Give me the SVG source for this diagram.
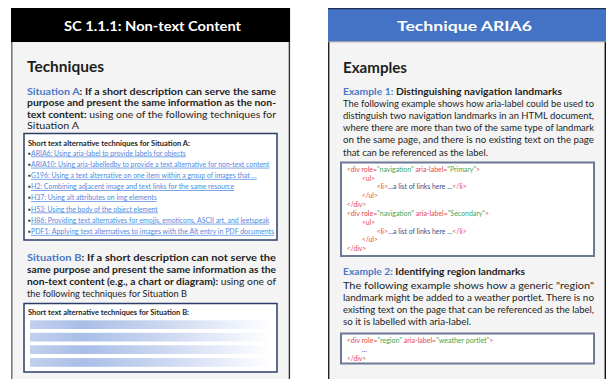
<svg xmlns="http://www.w3.org/2000/svg" width="607" height="379" viewBox="0 0 607 379">
<defs>
<style>
text{font-family:Lato,"Open Sans","Liberation Sans",sans-serif;fill:#1e1e1e}
.hdr{font-size:13.6px;font-weight:bold;fill:#fff}
.h2{font-size:14.8px;font-weight:bold}
.body{font-size:9.8px}
.b{font-weight:bold}
.blue{fill:#4a78c8}
.boxt{font-size:7.3px;font-weight:bold}
.link{font-size:7.4px;fill:#4f8ae0;text-decoration:underline}
.bul{font-size:7.4px;fill:#333}
.code{font-size:6.8px}
.r{fill:#e8474a}
.g{fill:#3fa652}
.cb{fill:#35528f}
.boxA{fill:#fff;stroke:#2c3d6a;stroke-width:1.5}
.cbox{fill:#fff;stroke:#6d7995;stroke-width:2}
</style>
<linearGradient id="bar" gradientUnits="userSpaceOnUse" x1="30" y1="0" x2="272" y2="0">
<stop offset="0" stop-color="#c2d0ee"/>
<stop offset="0.22" stop-color="#a9bee7"/>
<stop offset="0.55" stop-color="#cbd7f1"/>
<stop offset="1" stop-color="#ffffff"/>
</linearGradient>
</defs>
<rect width="607" height="379" fill="#fff"/>
<g id="connectors"/>

<g id="panel-sc111">
<rect x="11" y="8" width="279" height="372" fill="#f4f4f4"/>
<line x1="11.8" y1="8" x2="11.8" y2="379" stroke="#7a7a7a" stroke-width="1.6"/>
<line x1="289.4" y1="8" x2="289.4" y2="379" stroke="#333" stroke-width="1.4"/>
<rect x="11" y="8" width="279" height="34" fill="#000"/>
<text class="hdr" x="152.5" y="30.5" text-anchor="middle" textLength="177" lengthAdjust="spacingAndGlyphs">SC 1.1.1: Non-text Content</text>
<text class="h2" x="27" y="71.7" textLength="77" lengthAdjust="spacingAndGlyphs">Techniques</text>

<g id="situation-a">
<text class="body b" x="27" y="94.5" textLength="249" lengthAdjust="spacingAndGlyphs"><tspan class="blue">Situation A</tspan>: If a short description can serve the same</text>
<text class="body b" x="27" y="106" textLength="249" lengthAdjust="spacingAndGlyphs">purpose and present the same information as the non-</text>
<text class="body" x="27" y="117.5" textLength="249" lengthAdjust="spacingAndGlyphs"><tspan class="b">text content:</tspan> using one of the following techniques for</text>
<text class="body" x="27" y="129" textLength="52" lengthAdjust="spacingAndGlyphs">Situation A</text>
</g>

<g id="box-a">
<rect class="boxA" x="24" y="133.5" width="253" height="106.5"/>
<text class="boxt" x="28" y="145.5" textLength="162" lengthAdjust="spacingAndGlyphs">Short text alternative techniques for Situation A:</text>
<text class="bul" x="28" y="155.5">▪</text>
<text class="bul" x="28" y="166.7">▪</text>
<text class="bul" x="28" y="177.9">▪</text>
<text class="bul" x="28" y="189.1">▪</text>
<text class="bul" x="28" y="200.3">▪</text>
<text class="bul" x="28" y="211.5">▪</text>
<text class="bul" x="28" y="222.7">▪</text>
<text class="bul" x="28" y="233.9">▪</text>
<text class="link" x="31" y="155.5" textLength="154.7" lengthAdjust="spacingAndGlyphs">ARIA6: Using aria-label to provide labels for objects</text>
<text class="link" x="31" y="166.7" textLength="238.3" lengthAdjust="spacingAndGlyphs">ARIA10: Using aria-labelledby to provide a text alternative for non-text content</text>
<text class="link" x="31" y="177.9" textLength="225.7" lengthAdjust="spacingAndGlyphs">G196: Using a text alternative on one item within a group of images that …</text>
<text class="link" x="31" y="189.1" textLength="203.3" lengthAdjust="spacingAndGlyphs">H2: Combining adjacent image and text links for the same resource</text>
<text class="link" x="31" y="200.3" textLength="125.7" lengthAdjust="spacingAndGlyphs">H37: Using alt attributes on img elements</text>
<text class="link" x="31" y="211.5" textLength="126.7" lengthAdjust="spacingAndGlyphs">H53: Using the body of the object element</text>
<text class="link" x="31" y="222.7" textLength="238.3" lengthAdjust="spacingAndGlyphs">H86: Providing text alternatives for emojis, emoticons, ASCII art, and leetspeak</text>
<text class="link" x="31" y="233.9" textLength="243" lengthAdjust="spacingAndGlyphs">PDF1: Applying text alternatives to images with the Alt entry in PDF documents</text>
</g>

<g id="situation-b">
<text class="body b" x="27" y="260.5" textLength="249" lengthAdjust="spacingAndGlyphs"><tspan class="blue">Situation B</tspan>: If a short description can not serve the</text>
<text class="body b" x="27" y="272.5" textLength="249" lengthAdjust="spacingAndGlyphs">same purpose and present the same information as the</text>
<text class="body" x="27" y="284.5" textLength="249" lengthAdjust="spacingAndGlyphs"><tspan class="b">non-text content (e.g., a chart or diagram):</tspan> using one of</text>
<text class="body" x="27" y="296.5" textLength="160" lengthAdjust="spacingAndGlyphs">the following techniques for Situation B</text>
</g>

<g id="box-b">
<rect class="boxA" x="24" y="303.5" width="253" height="68.5"/>
<text class="boxt" x="28" y="315" textLength="161" lengthAdjust="spacingAndGlyphs">Short text alternative techniques for Situation B:</text>
<rect x="30" y="320.3" width="242" height="8.7" fill="url(#bar)"/>
<rect x="30" y="332.8" width="242" height="8.7" fill="url(#bar)"/>
<rect x="30" y="345.3" width="242" height="8.7" fill="url(#bar)"/>
<rect x="30" y="358.1" width="242" height="8.7" fill="url(#bar)"/>
</g>
</g>

<g id="panel-aria6">
<rect x="328" y="8" width="278" height="372" fill="#f4f4f4"/>
<line x1="328.7" y1="8" x2="328.7" y2="379" stroke="#222" stroke-width="1.4"/>
<line x1="605.3" y1="8" x2="605.3" y2="379" stroke="#111" stroke-width="1.4"/>
<rect x="328" y="8" width="278" height="33.5" fill="#4472c4"/>
<line x1="328" y1="8.6" x2="606" y2="8.6" stroke="#1f2f55" stroke-width="1.2"/>
<line x1="328" y1="41.8" x2="606" y2="41.8" stroke="#9a9a9a" stroke-width="1"/>
<text class="hdr" x="464.5" y="30.5" text-anchor="middle" textLength="135" lengthAdjust="spacingAndGlyphs">Technique ARIA6</text>
<text class="h2" x="343" y="72.5" textLength="64" lengthAdjust="spacingAndGlyphs">Examples</text>

<g id="example-1">
<text class="body b" x="343" y="95" textLength="219" lengthAdjust="spacingAndGlyphs"><tspan class="blue">Example 1:</tspan> Distinguishing navigation landmarks</text>
<text class="body" x="343" y="106.5" textLength="251" lengthAdjust="spacingAndGlyphs">The following example shows how aria-label could be used to</text>
<text class="body" x="343" y="118.8" textLength="251" lengthAdjust="spacingAndGlyphs">distinguish two navigation landmarks in an HTML document,</text>
<text class="body" x="343" y="131.1" textLength="251" lengthAdjust="spacingAndGlyphs">where there are more than two of the same type of landmark</text>
<text class="body" x="343" y="143.4" textLength="251" lengthAdjust="spacingAndGlyphs">on the same page, and there is no existing text on the page</text>
<text class="body" x="343" y="155.7" textLength="145" lengthAdjust="spacingAndGlyphs">that can be referenced as the label.</text>
</g>

<g id="code-1">
<rect class="cbox" x="341" y="162.5" width="253" height="93.5"/>
<text class="code r" x="346.7" y="171.6" textLength="133.3" lengthAdjust="spacingAndGlyphs">&lt;div role=<tspan class="g">"navigation"</tspan> aria-label=<tspan class="g">"Primary"</tspan>&gt;</text>
<text class="code r" x="361.7" y="180.5">&lt;ul&gt;</text>
<text class="code r" x="376.7" y="189.3" textLength="90" lengthAdjust="spacingAndGlyphs">&lt;li&gt;<tspan class="cb">…a list of links here …</tspan>&lt;/li&gt;</text>
<text class="code r" x="361.7" y="198.2">&lt;/ul&gt;</text>
<text class="code r" x="346.7" y="207">&lt;/div&gt;</text>
<text class="code r" x="346.7" y="215.9" textLength="142.3" lengthAdjust="spacingAndGlyphs">&lt;div role=<tspan class="g">"navigation"</tspan> aria-label=<tspan class="g">"Secondary"</tspan>&gt;</text>
<text class="code r" x="361.7" y="224.7">&lt;ul&gt;</text>
<text class="code r" x="376.7" y="233.6" textLength="90" lengthAdjust="spacingAndGlyphs">&lt;li&gt;<tspan class="cb">…a list of links here …</tspan>&lt;/li&gt;</text>
<text class="code r" x="361.7" y="242.4">&lt;/ul&gt;</text>
<text class="code r" x="346.7" y="251.3">&lt;/div&gt;</text>
</g>

<g id="example-2">
<text class="body b" x="343" y="274.5" textLength="182" lengthAdjust="spacingAndGlyphs"><tspan class="blue">Example 2:</tspan> Identifying region landmarks</text>
<text class="body" x="343" y="288.5" textLength="251" lengthAdjust="spacingAndGlyphs">The following example shows how a generic "region"</text>
<text class="body" x="343" y="300.5" textLength="251" lengthAdjust="spacingAndGlyphs">landmark might be added to a weather portlet. There is no</text>
<text class="body" x="343" y="312.5" textLength="251" lengthAdjust="spacingAndGlyphs">existing text on the page that can be referenced as the label,</text>
<text class="body" x="343" y="324.5" textLength="128" lengthAdjust="spacingAndGlyphs">so it is labelled with aria-label.</text>
</g>

<g id="code-2">
<rect class="cbox" x="341" y="333.5" width="253" height="30"/>
<text class="code r" x="346.7" y="342.5" textLength="146.6" lengthAdjust="spacingAndGlyphs">&lt;div role=<tspan class="g">"region"</tspan> aria-label=<tspan class="g">"weather portlet"</tspan>&gt;</text>
<text class="code cb" x="361.7" y="351.5">…</text>
<text class="code r" x="346.7" y="360.5">&lt;/div&gt;</text>
</g>
</g>
</svg>
